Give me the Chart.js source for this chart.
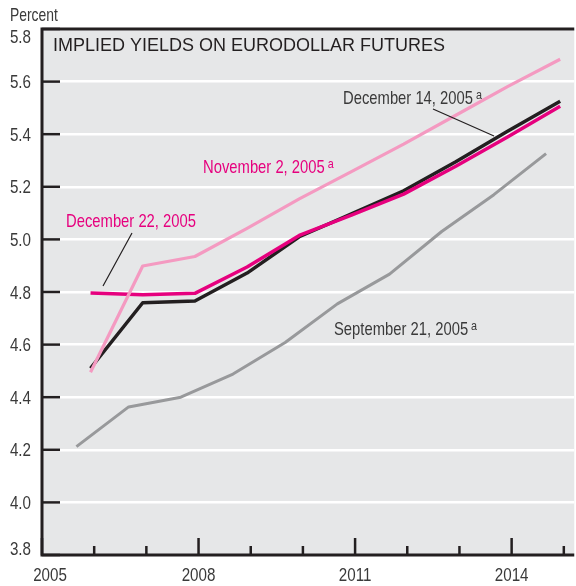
<!DOCTYPE html>
<html>
<head>
<meta charset="utf-8">
<script src="https://cdn.jsdelivr.net/npm/chart.js@4.4.1/dist/chart.umd.min.js"></script>
<style>
html, body { margin: 0; padding: 0; background: #fff; }
canvas { display: block; }
</style>
</head>
<body>
<canvas id="chart" width="576" height="586"></canvas>
<script>
// contract dates (fractional years)
var decDates = [2005.93, 2006.93, 2007.93, 2008.93, 2009.93, 2010.93, 2011.93, 2012.93, 2013.93, 2014.93];
var sepDates = [2005.66, 2006.66, 2007.66, 2008.66, 2009.66, 2010.66, 2011.66, 2012.66, 2013.66, 2014.66];

// implied yields, percent
var dec22 = [4.796, 4.790, 4.795, 4.895, 5.015, 5.092, 5.172, 5.278, 5.390, 5.506];
var nov2  = [4.495, 4.899, 4.935, 5.042, 5.154, 5.258, 5.362, 5.472, 5.582, 5.685];
var dec14 = [4.510, 4.759, 4.766, 4.872, 5.010, 5.097, 5.185, 5.295, 5.412, 5.525];
var sep21 = [4.212, 4.363, 4.400, 4.488, 4.608, 4.755, 4.868, 5.030, 5.170, 5.326];

var yearTicks = [2005, 2006, 2007, 2008, 2009, 2010, 2011, 2012, 2013, 2014, 2015];
var yearLabels = [2005, 2008, 2011, 2014];

var MAGENTA = '#e6007e';
var PINK = '#f49ac1';
var BLACK = '#231f20';
var GREY = '#98999b';
var TEXT = '#3a3a3a';
var FONT = '"Liberation Sans", Arial, sans-serif';
var SQUEEZE = 0.8; // condensed look

// draws text squeezed horizontally, returns drawn width
function txt(ctx, s, x, y, size, color, align, sx) {
	sx = sx || SQUEEZE;
	ctx.save();
	ctx.font = size + 'px ' + FONT;
	ctx.fillStyle = color;
	ctx.textAlign = align || 'left';
	ctx.textBaseline = 'alphabetic';
	ctx.translate(x, y);
	ctx.scale(sx, 1);
	ctx.fillText(s, 0, 0);
	var w = ctx.measureText(s).width * sx;
	ctx.restore();
	return w;
}

// label with superscript "a"
function noteLabel(ctx, s, x, y, color) {
	var w = txt(ctx, s, x, y, 18.5, color);
	txt(ctx, 'a', x + w + 3, y - 5, 13.5, color);
}

var decor = {
	id: 'decor',
	beforeDraw: function(chart) {
		var a = chart.chartArea, ctx = chart.ctx;
		ctx.save();
		ctx.fillStyle = '#e6e7e8';
		ctx.fillRect(a.left, a.top, a.right - a.left, a.bottom - a.top);
		ctx.restore();
	},
	afterDraw: function(chart) {
		var a = chart.chartArea, ctx = chart.ctx;
		var xs = chart.scales.x, ys = chart.scales.y;
		ctx.save();

		// axes
		ctx.strokeStyle = BLACK;
		ctx.lineWidth = 3;
		ctx.beginPath();
		ctx.moveTo(a.right, a.top);
		ctx.lineTo(a.left, a.top);
		ctx.lineTo(a.left, a.bottom);
		ctx.lineTo(a.right, a.bottom);
		ctx.stroke();

		// y ticks and labels
		ys.ticks.forEach(function(t) {
			var py = ys.getPixelForValue(t.value);
			ctx.strokeStyle = BLACK;
			ctx.lineWidth = 2.5;
			ctx.beginPath();
			ctx.moveTo(a.left, py);
			ctx.lineTo(a.left + 18, py);
			ctx.stroke();
			var ly = Math.min(Math.max(py, a.top + 7.5), a.bottom - 6.5);
			txt(ctx, t.value.toFixed(1), 31, ly + 6.5, 18.5, TEXT, 'right', 0.82);
		});

		// x ticks and labels
		yearTicks.forEach(function(yr) {
			var px = xs.getPixelForValue(yr);
			var major = yearLabels.indexOf(yr) >= 0;
			ctx.strokeStyle = BLACK;
			ctx.lineWidth = 2.5;
			ctx.beginPath();
			ctx.moveTo(px, a.bottom);
			ctx.lineTo(px, a.bottom - (major ? 17 : 9));
			ctx.stroke();
			if (major) {
				txt(ctx, String(yr), Math.max(px, a.left + 8), 581, 18.5, TEXT, 'center', 0.82);
			}
		});

		txt(ctx, 'Percent', 10, 21, 18.5, TEXT, 'left', 0.75);
		txt(ctx, 'IMPLIED YIELDS ON EURODOLLAR FUTURES', 53, 51, 18, BLACK, 'left', 1);

		// series notes
		txt(ctx, 'December 22, 2005', 66, 227, 18.5, MAGENTA);
		noteLabel(ctx, 'November 2, 2005', 203, 173, MAGENTA);
		noteLabel(ctx, 'December 14, 2005', 343, 104, TEXT);
		noteLabel(ctx, 'September 21, 2005', 334, 335, TEXT);

		// leader lines
		ctx.strokeStyle = BLACK;
		ctx.lineWidth = 1.2;
		ctx.beginPath();
		ctx.moveTo(103, 286);
		ctx.lineTo(132, 233);
		ctx.moveTo(433, 109);
		ctx.lineTo(494, 136);
		ctx.stroke();

		ctx.restore();
	}
};

var ctx1 = document.getElementById('chart').getContext('2d');
var chart = new Chart(ctx1, {
	type: 'line',
	data: {
		datasets: [
			{ label: 'September 21, 2005', data: [], borderColor: GREY, borderWidth: 3 },
			{ label: 'November 2, 2005', data: [], borderColor: PINK, borderWidth: 3.2 },
			{ label: 'December 22, 2005', data: [], borderColor: MAGENTA, borderWidth: 3.5 },
			{ label: 'December 14, 2005', data: [], borderColor: BLACK, borderWidth: 3.5 }
		]
	},
	options: {
		responsive: false,
		devicePixelRatio: 1,
		animation: false,
		layout: { padding: { top: 29, right: 0, left: 0, bottom: 0 } },
		elements: {
			point: { radius: 0, hoverRadius: 0 },
			line: { tension: 0, borderJoinStyle: 'round', fill: false }
		},
		plugins: {
			legend: { display: false },
			tooltip: { enabled: false }
		},
		scales: {
			x: {
				type: 'linear',
				min: 2005,
				max: 2015.2,
				grid: { display: false },
				border: { display: false },
				ticks: { display: false },
				afterFit: function(s) { s.height = 31; }
			},
			y: {
				min: 3.8,
				max: 5.8,
				grid: { color: '#ffffff', lineWidth: 2.5, drawTicks: false },
				border: { display: false },
				ticks: { stepSize: 0.2, display: false },
				afterFit: function(s) { s.width = 42; }
			}
		}
	},
	plugins: [decor]
});

// attach series as x/y points
function pts(xs, ys) {
	return xs.map(function(x, i) { return {x: x, y: ys[i]}; });
}
chart.data.datasets[0].data = pts(sepDates, sep21);
chart.data.datasets[1].data = pts(decDates, nov2);
chart.data.datasets[2].data = pts(decDates, dec22);
chart.data.datasets[3].data = pts(decDates, dec14);
chart.update();
</script>
</body>
</html>
